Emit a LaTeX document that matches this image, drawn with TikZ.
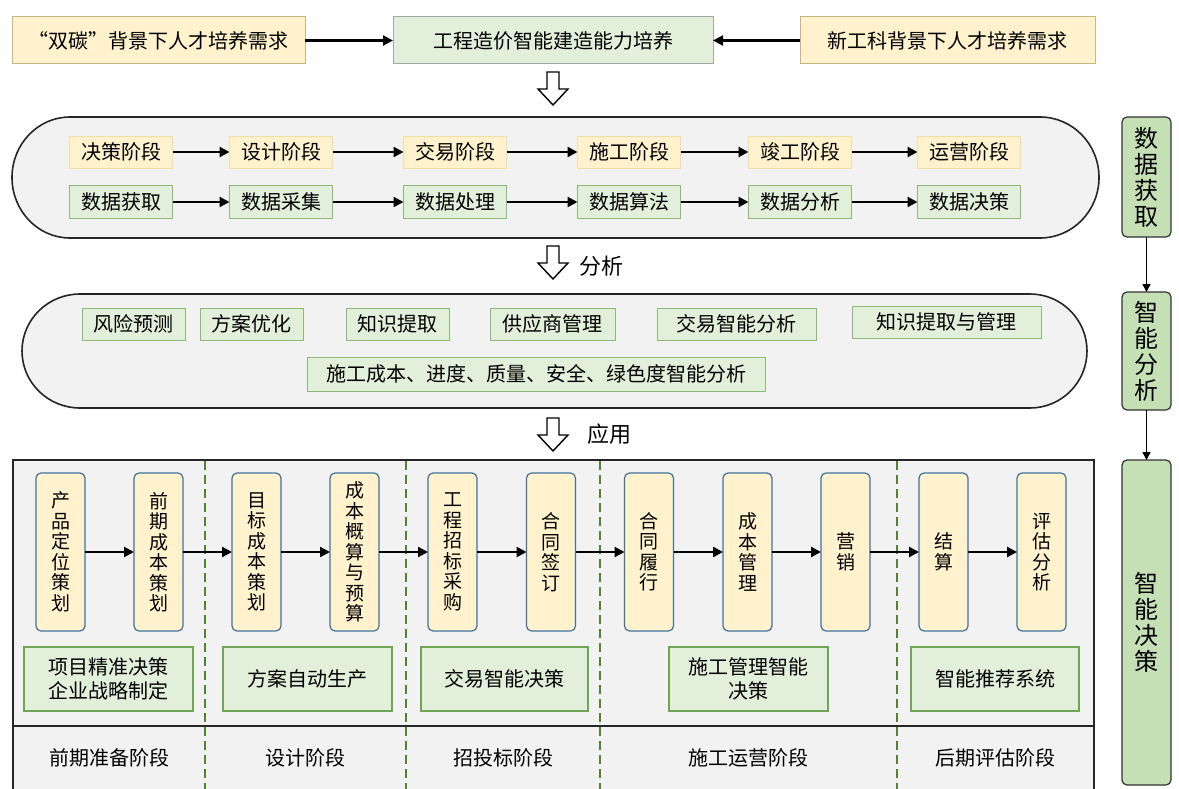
\documentclass[tikz,border=0pt]{standalone}
\usepackage{fontspec}
\setmainfont{Noto Sans CJK SC}
\usetikzlibrary{arrows.meta}
\definecolor{yfill}{HTML}{FFF2CC}
\definecolor{yline}{HTML}{C9B37F}
\definecolor{ylight}{HTML}{F2DFA8}
\definecolor{gfill}{HTML}{E2EFDA}
\definecolor{gline}{HTML}{8DB877}
\definecolor{gdark}{HTML}{70A653}
\definecolor{panel}{HTML}{F2F2F2}
\definecolor{vline}{HTML}{41719C}
\definecolor{rfill}{HTML}{C5E0B4}
\definecolor{dashg}{HTML}{548235}
\begin{document}
\begin{tikzpicture}[x=1pt,y=-1pt,
  every node/.style={inner sep=0pt, outer sep=0pt, font=\fontsize{20}{21}\selectfont},
  topy/.style={draw=yline, fill=yfill, line width=1pt, minimum height=47},
  topg/.style={draw=gray!70, fill=gfill, line width=1pt, minimum height=47},
  rowy/.style={draw=ylight, fill=yfill, line width=0.8pt, minimum width=103, minimum height=32},
  rowg/.style={draw=gline, fill=gfill, line width=0.8pt, minimum width=103, minimum height=33},
  agbox/.style={draw=gline, fill=gfill, line width=0.8pt, minimum height=32},
  vbox/.style={draw=vline, fill=yfill, line width=1.2pt, rounded corners=5, minimum width=49, minimum height=158, align=center, font=\fontsize{19}{20.5}\selectfont},
  dbox/.style={draw=gdark, fill=gfill, line width=1.5pt, minimum height=64, align=center, font=\fontsize{20}{24}\selectfont},
  rbox/.style={draw=black!80, fill=rfill, line width=1.2pt, rounded corners=5, minimum width=49, align=center, font=\fontsize{24}{26}\selectfont},
  arr/.style={-{Triangle[length=10pt,width=10pt]}, line width=2.2pt},
  rarr/.style={-{Triangle[length=8pt,width=8pt]}, line width=1.5pt},
  hollow/.style={draw=black, fill=white, line width=1.4pt, line join=miter},
  stadium/.style={draw=black!85, fill=panel, line width=1.6pt},
  phase/.style={font=\fontsize{20}{21}\selectfont},
  lbl/.style={font=\fontsize{22}{24}\selectfont, anchor=west}
]
\useasboundingbox (0,0) rectangle (1179,789);
\fill[white] (0,0) rectangle (1179,789);

% top row
\node[topy, minimum width=293] (t1) at (158.5,40.5) {“双碳”背景下人才培养需求};
\node[topg, minimum width=320] (t2) at (553,40.5) {工程造价智能建造能力培养};
\node[topy, minimum width=295] (t3) at (947.5,40.5) {新工科背景下人才培养需求};
\draw[arr] (t1.east) -- (t2.west);
\draw[arr] (t3.west) -- (t2.east);

% hollow arrow 1
\draw[hollow] (547,72) -- (559,72) -- (559,89) -- (568,89) -- (553,105) -- (538,89) -- (547,89) -- cycle;

% panel 1
\draw[stadium] (70,117) -- (1040,117) arc[start angle=-90, end angle=90, x radius=59, y radius=60.5] -- (70,238) arc[start angle=90, end angle=270, x radius=58, y radius=60.5] -- cycle;

\node[rowy] (a1) at (121,152) {决策阶段};
\node[rowy] (a2) at (281,152) {设计阶段};
\node[rowy] (a3) at (455,152) {交易阶段};
\node[rowy] (a4) at (629,152) {施工阶段};
\node[rowy] (a5) at (800,152) {竣工阶段};
\node[rowy] (a6) at (969,152) {运营阶段};
\node[rowg] (b1) at (121,202) {数据获取};
\node[rowg] (b2) at (281,202) {数据采集};
\node[rowg] (b3) at (455,202) {数据处理};
\node[rowg] (b4) at (629,202) {数据算法};
\node[rowg] (b5) at (800,202) {数据分析};
\node[rowg] (b6) at (969,202) {数据决策};
\foreach \i/\j in {1/2,2/3,3/4,4/5,5/6}{
  \draw[arr] (a\i.east) -- (a\j.west);
  \draw[arr] (b\i.east) -- (b\j.west);
}

% hollow arrow 2
\draw[hollow] (547,246) -- (559,246) -- (559,263) -- (568,263) -- (553,279) -- (538,263) -- (547,263) -- cycle;
\node[lbl] (l1) at (579,266) {分析};

% panel 2
\draw[stadium] (80,294) -- (1030,294) arc[start angle=-90, end angle=90, x radius=57, y radius=57] -- (80,408) arc[start angle=90, end angle=270, x radius=58, y radius=57] -- cycle;
\node[agbox, minimum width=103] (c1) at (133.5,324) {风险预测};
\node[agbox, minimum width=103] (c2) at (251.5,324) {方案优化};
\node[agbox, minimum width=103] (c3) at (397.5,324) {知识提取};
\node[agbox, minimum width=125] (c4) at (552.5,324) {供应商管理};
\node[agbox, minimum width=159] (c5) at (736.5,324) {交易智能分析};
\node[agbox, minimum width=189] (c6) at (946.5,322) {知识提取与管理};
\node[agbox, minimum width=458, minimum height=34] (c7) at (536,374) {施工成本、进度、质量、安全、绿色度智能分析};

% hollow arrow 3
\draw[hollow] (547,418) -- (559,418) -- (559,435) -- (568,435) -- (553,451) -- (538,435) -- (547,435) -- cycle;
\node[lbl] (l2) at (587,434) {应用};

% bottom panel
\draw[draw=black!85, fill=panel, line width=1.6pt] (13,460) rectangle (1094,792);
\draw[black!85, line width=1.6pt] (13,726) -- (1094,726);
\foreach \x in {205,406,600,897}{
  \draw[dashg, line width=1.6pt, dash pattern=on 9pt off 5pt] (\x,461) -- (\x,789);
}

\node[vbox] (v1) at (60.5,552) {产\\品\\定\\位\\策\\划};
\node[vbox] (v2) at (158.5,552) {前\\期\\成\\本\\策\\划};
\node[vbox] (v3) at (256.5,552) {目\\标\\成\\本\\策\\划};
\node[vbox] (v4) at (354.5,552) {成\\本\\概\\算\\与\\预\\算};
\node[vbox] (v5) at (452.5,552) {工\\程\\招\\标\\采\\购};
\node[vbox] (v6) at (551,552) {合\\同\\签\\订};
\node[vbox] (v7) at (649,552) {合\\同\\履\\行};
\node[vbox] (v8) at (747.5,552) {成\\本\\管\\理};
\node[vbox] (v9) at (845.5,552) {营\\销};
\node[vbox] (v10) at (943.5,552) {结\\算};
\node[vbox] (v11) at (1041.5,552) {评\\估\\分\\析};
\foreach \i/\j in {1/2,2/3,3/4,4/5,5/6,6/7,7/8,8/9,9/10,10/11}{
  \draw[arr] (v\i.east) -- (v\j.west);
}

\node[dbox, minimum width=169] (d1) at (108.5,679) {项目精准决策\\企业战略制定};
\node[dbox, minimum width=169] (d2) at (307.5,679) {方案自动生产};
\node[dbox, minimum width=167] (d3) at (504.5,679) {交易智能决策};
\node[dbox, minimum width=159] (d4) at (748.5,679) {施工管理智能\\决策};
\node[dbox, minimum width=168] (d5) at (995,679) {智能推荐系统};

\node[phase] (p1) at (109,758) {前期准备阶段};
\node[phase] (p2) at (305,758) {设计阶段};
\node[phase] (p3) at (503,758) {招投标阶段};
\node[phase] (p4) at (748,758) {施工运营阶段};
\node[phase] (p5) at (995,758) {后期评估阶段};

% right column
\node[rbox, minimum height=120] (r1) at (1146.5,177) {数\\据\\获\\取};
\node[rbox, minimum height=118] (r2) at (1146.5,351) {智\\能\\分\\析};
\node[rbox, minimum height=325] (r3) at (1146.5,622.5) {智\\能\\决\\策};
\draw[rarr] (r1.south) -- (r2.north);
\draw[rarr] (r2.south) -- (r3.north);
\end{tikzpicture}
\end{document}
